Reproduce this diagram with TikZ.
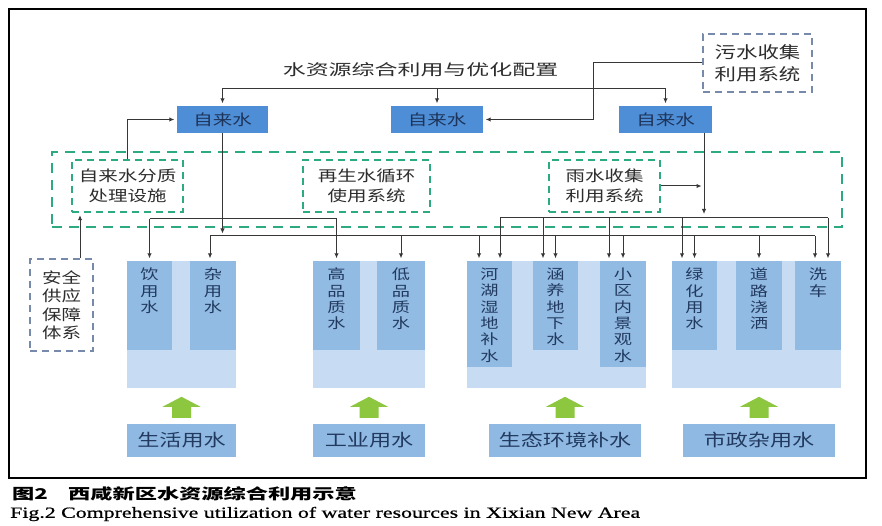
\documentclass[tikz,border=0pt]{standalone}
\usepackage{fontspec}
\setmainfont{Liberation Serif}
\newfontfamily\cjk[FakeStretch=1.3]{Noto Sans CJK SC}
\newfontfamily\cjkw[FakeStretch=1.5]{Noto Sans CJK SC}
\newfontfamily\capen[FakeStretch=1.41,FakeBold=0.8]{Liberation Serif}
\usetikzlibrary{arrows.meta}
\definecolor{tapblue}{RGB}{78,142,214}
\definecolor{taptext}{RGB}{30,52,90}
\definecolor{colblue}{RGB}{146,187,228}
\definecolor{panelblue}{RGB}{199,220,242}
\definecolor{labblue}{RGB}{143,185,227}
\definecolor{dgreen}{RGB}{44,170,128}
\definecolor{graydash}{RGB}{120,138,172}
\definecolor{arrgreen}{RGB}{141,198,63}
\definecolor{linegray}{RGB}{55,55,55}
\definecolor{boxtext}{RGB}{45,45,45}
\definecolor{coltext}{RGB}{34,58,95}
\tikzset{
  frame/.style={draw=black, line width=1.8pt},
  tapbox/.style={fill=tapblue, draw=none, minimum width=92pt, minimum height=27pt, inner sep=0pt,
    font=\cjk\fontsize{15}{15}\selectfont, text=taptext},
  sysbox/.style={draw=dgreen, dash pattern=on 7pt off 5pt, line width=1.4pt, align=center, inner sep=0pt,
    minimum height=52pt, font=\cjk\fontsize{15}{20}\selectfont, text=boxtext},
  groupbox/.style={draw=dgreen, dash pattern=on 10pt off 7pt, line width=1.6pt, inner sep=0pt},
  graybox/.style={draw=graydash, dash pattern=on 7pt off 5pt, line width=1.4pt, align=center, inner sep=0pt,
    text=boxtext},
  conn/.style={draw=linegray, line width=1pt},
  arr/.style={conn, -{Latex[length=5pt,width=4.5pt]}, shorten >=2.5pt},
  panel/.style={fill=panelblue, draw=none, inner sep=0pt},
  colbox/.style={fill=colblue, draw=none, inner sep=0pt},
  coltxt/.style={font=\cjk\fontsize{14}{16.3}\selectfont, align=center, anchor=north, text=coltext, inner sep=0pt},
  usebox/.style={fill=labblue, draw=none, inner sep=0pt, minimum height=33pt,
    font=\cjk\fontsize{17}{17}\selectfont, text=coltext},
  uparrow/.pic={\fill[arrgreen] (-19,-0.5) -- (0,-10.5) -- (19,-0.5) -- (9.5,-0.5) -- (9.5,10.5)
     -- (-9.5,10.5) -- (-9.5,-0.5) -- cycle;}
}
\begin{document}
\begin{tikzpicture}[x=1pt,y=-1pt]
\fill[white] (0,0) rectangle (882,526);
\useasboundingbox (0,0) rectangle (882,526);
\draw[frame] (9,9) rectangle (866,478);

% title
\node[font=\cjkw\fontsize{15.3}{15.3}\selectfont, text=boxtext, inner sep=0pt] (title) at (420.5,70) {水资源综合利用与优化配置};

% tap water boxes
\node[tapbox, minimum width=91pt] (zl) at (222.5,119.5) {自来水};
\node[tapbox] (zm) at (437,119.5) {自来水};
\node[tapbox, minimum width=93pt] (zr) at (665.5,119.5) {自来水};

% sewage box
\node[graybox, minimum width=109pt, minimum height=58pt, font=\cjk\fontsize{16.5}{22}\selectfont] (wu) at (757.5,63) {污水收集\\利用系统};

% system group
\node[groupbox, minimum width=790pt, minimum height=75pt] (grp) at (447,189.5) {};
\node[sysbox, minimum width=111pt] (fz) at (127.5,186) {自来水分质\\处理设施};
\node[sysbox, minimum width=127pt] (zs) at (366.5,186) {再生水循环\\使用系统};
\node[sysbox, minimum width=111pt] (ys) at (604.5,186) {雨水收集\\利用系统};

% safety box
\node[graybox, minimum width=63pt, minimum height=92pt, font=\cjk\fontsize{15}{18.5}\selectfont] (aq) at (61.5,305) {安全\\供应\\保障\\体系};

% panels
\node[panel, minimum width=109pt, minimum height=127pt] (p1) at (181.5,324.5) {};
\node[panel, minimum width=112pt, minimum height=127pt] (p2) at (369,324.5) {};
\node[panel, minimum width=179pt, minimum height=127pt] (p3) at (556.5,324.5) {};
\node[panel, minimum width=169pt, minimum height=127pt] (p4) at (756.5,324.5) {};

% columns
\node[colbox, minimum width=45pt, minimum height=89pt] (c1) at (149.5,305.5) {};
\node[colbox, minimum width=46pt, minimum height=89pt] (c2) at (213,305.5) {};
\node[colbox, minimum width=47pt, minimum height=89pt] (c3) at (336.5,305.5) {};
\node[colbox, minimum width=48pt, minimum height=89pt] (c4) at (401,305.5) {};
\node[colbox, minimum width=45pt, minimum height=106pt] (c5) at (489.5,314) {};
\node[colbox, minimum width=45pt, minimum height=89pt] (c6) at (555.5,305.5) {};
\node[colbox, minimum width=46pt, minimum height=106pt] (c7) at (623,314) {};
\node[colbox, minimum width=45pt, minimum height=89pt] (c8) at (694.5,305.5) {};
\node[colbox, minimum width=46pt, minimum height=89pt] (c9) at (759,305.5) {};
\node[colbox, minimum width=46pt, minimum height=89pt] (c10) at (818,305.5) {};

\node[coltxt] (t1) at ([yshift=-7pt]c1.north) {饮\\用\\水};
\node[coltxt] (t2) at ([yshift=-7pt]c2.north) {杂\\用\\水};
\node[coltxt] (t3) at ([yshift=-7pt]c3.north) {高\\品\\质\\水};
\node[coltxt] (t4) at ([yshift=-7pt]c4.north) {低\\品\\质\\水};
\node[coltxt] (t5) at ([yshift=-7pt]c5.north) {河\\湖\\湿\\地\\补\\水};
\node[coltxt] (t6) at ([yshift=-7pt]c6.north) {涵\\养\\地\\下\\水};
\node[coltxt] (t7) at ([yshift=-7pt]c7.north) {小\\区\\内\\景\\观\\水};
\node[coltxt] (t8) at ([yshift=-7pt]c8.north) {绿\\化\\用\\水};
\node[coltxt] (t9) at ([yshift=-7pt]c9.north) {道\\路\\浇\\洒};
\node[coltxt] (t10) at ([yshift=-7pt]c10.north) {洗\\车};

% usage labels
\node[usebox, minimum width=109pt] (l1) at (181.5,440.5) {生活用水};
\node[usebox, minimum width=112pt] (l2) at (369,440.5) {工业用水};
\node[usebox, minimum width=152pt] (l3) at (565,440.5) {生态环境补水};
\node[usebox, minimum width=152pt] (l4) at (759,440.5) {市政杂用水};

\pic at ([yshift=16.5pt]l1.north) {uparrow};
\pic at ([yshift=16.5pt]l2.north) {uparrow};
\pic at ([yshift=16.5pt]l3.north) {uparrow};
\pic at ([yshift=16.5pt]l4.north) {uparrow};

% coordinates
\coordinate (tb) at (437,89);
\coordinate (wb) at (593,63);
\coordinate (sx) at (80,0);
\coordinate (lb) at (210,236);
\coordinate (lbR) at (815,236);
\coordinate (ul) at (0,219);
\coordinate (ur) at (500,218);
\coordinate (urR) at (828,218);
\coordinate (vr) at (704,0);
\coordinate (d5a) at (479,0);
\coordinate (d6a) at (543,0);
\coordinate (d7a) at (609,0);
\coordinate (d8a) at (682,0);

% top distribution
\draw[arr] (tb) -| (zl.north);
\draw[arr] (tb) -| (zr.north);
\draw[arr] (tb) -- (zm.north);
% sewage to middle tap
\draw[arr] (wu.west) -- (wb) |- (zm.east);
% treatment to left tap
\draw[arr] (fz.north) |- (zl.west);
% safety to treatment
\draw[arr] (aq.north -| sx) -- (fz.south -| sx);
% rain to right vertical
\draw[arr] (ys.east) -- (ys.east -| vr);
% right tap down to upper right bus
\draw[arr, shorten >=4pt] (zr.south -| vr) -- (vr |- ur);

% upper left bus
\draw[conn] (c1.north |- ul) -- (c3.north |- ul);
\draw[arr] (c1.north |- ul) -- (c1.north);
\draw[arr] (c3.north |- ul) -- (c3.north);

% left tap down to lower bus
\draw[arr] (zl.south) -- (zl.south |- lb);

% lower bus
\draw[conn] (lb) -- (lbR);
\draw[arr] (lb) -- (lb |- c2.north);
\draw[arr] (c4.north |- lb) -- (c4.north);
\draw[arr] (d5a |- lb) -- (d5a |- c5.north);
\draw[arr] (c6.north |- lb) -- (c6.north);
\draw[arr] (c7.north |- lb) -- (c7.north);
\draw[arr] (c8.north |- lb) -- (c8.north);
\draw[arr] (c9.north |- lb) -- (c9.north);
\draw[arr] (lbR) -- (lbR |- c10.north);

% upper right bus
\draw[conn] (ur) -- (urR);
\draw[arr] (ur) -- (ur |- c5.north);
\draw[arr] (d6a |- ur) -- (d6a |- c6.north);
\draw[arr] (d7a |- ur) -- (d7a |- c7.north);
\draw[arr] (d8a |- ur) -- (d8a |- c8.north);
\draw[arr] (urR) -- (urR |- c10.north);

% caption
\node[anchor=west, inner sep=0pt, font=\cjkw\bfseries\fontsize{14.8}{14.8}\selectfont, text=black] (cap1) at (12,494) {图2};
\node[anchor=west, inner sep=0pt, font=\cjkw\bfseries\fontsize{14.8}{14.8}\selectfont, text=black] (cap2) at (68,494) {西咸新区水资源综合利用示意};
\node[anchor=west, inner sep=0pt, font=\capen\fontsize{15.5}{15.5}\selectfont, text=black] (cap3) at (10,514) {Fig.2 Comprehensive utilization of water resources in Xixian New Area};
\end{tikzpicture}
\end{document}
